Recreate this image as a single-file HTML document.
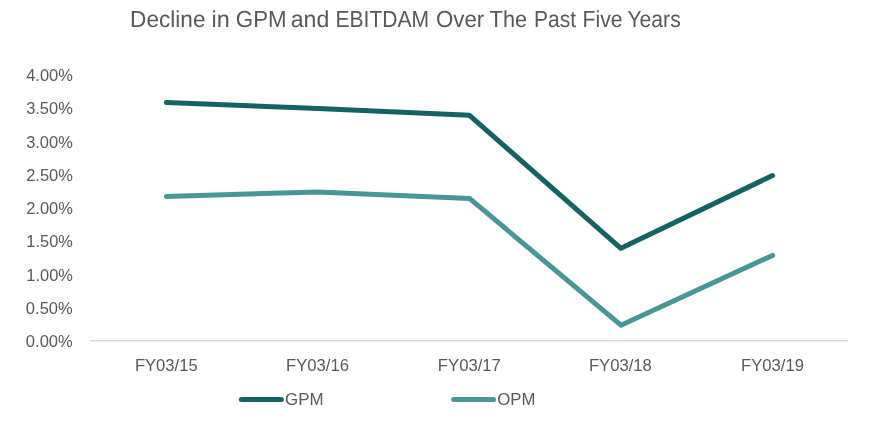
<!DOCTYPE html>
<html lang="en"><head><meta charset="utf-8"><title>Decline in GPM and EBITDAM Over The Past Five Years</title>
<style>
html,body{margin:0;padding:0;background:#fff;}
body{width:874px;height:442px;overflow:hidden;}
svg{display:block;}
text{font-family:"Liberation Sans",sans-serif;fill:#595959;}
.t{font-size:23.15px;text-rendering:geometricPrecision;}
.l{font-size:17.2px;}
</style></head><body>
<svg width="874" height="442" viewBox="0 0 874 442">
<rect width="874" height="442" fill="#fff"/>
<text class="t" y="27"><tspan x="130.11" textLength="75.39" lengthAdjust="spacingAndGlyphs">Decline</tspan> <tspan x="211.46" textLength="18.23" lengthAdjust="spacingAndGlyphs">in</tspan> <tspan x="235.82" textLength="50.79" lengthAdjust="spacingAndGlyphs">GPM</tspan> <tspan x="290.73" textLength="38.52" lengthAdjust="spacingAndGlyphs">and</tspan> <tspan x="335.44" textLength="93.73" lengthAdjust="spacingAndGlyphs">EBITDAM</tspan> <tspan x="435.96" textLength="48.31" lengthAdjust="spacingAndGlyphs">Over</tspan> <tspan x="489.61" textLength="37.43" lengthAdjust="spacingAndGlyphs">The</tspan> <tspan x="534.06" textLength="41.95" lengthAdjust="spacingAndGlyphs">Past</tspan> <tspan x="582.53" textLength="39.99" lengthAdjust="spacingAndGlyphs">Five</tspan> <tspan x="627.47" textLength="53.24" lengthAdjust="spacingAndGlyphs">Years</tspan></text>
<rect x="90" y="340" width="758" height="1.35" fill="#d9d9d9"/>
<text class="l" x="26.19" y="81.00" textLength="46.58" lengthAdjust="spacingAndGlyphs">4.00%</text>
<text class="l" x="26.17" y="114.00" textLength="46.62" lengthAdjust="spacingAndGlyphs">3.50%</text>
<text class="l" x="26.17" y="148.00" textLength="46.62" lengthAdjust="spacingAndGlyphs">3.00%</text>
<text class="l" x="26.2" y="181.00" textLength="46.71" lengthAdjust="spacingAndGlyphs">2.50%</text>
<text class="l" x="26.2" y="214.00" textLength="46.71" lengthAdjust="spacingAndGlyphs">2.00%</text>
<text class="l" x="26.33" y="247.00" textLength="46.5" lengthAdjust="spacingAndGlyphs">1.50%</text>
<text class="l" x="26.33" y="281.00" textLength="46.5" lengthAdjust="spacingAndGlyphs">1.00%</text>
<text class="l" x="25.83" y="314.00" textLength="46.94" lengthAdjust="spacingAndGlyphs">0.50%</text>
<text class="l" x="25.83" y="347.00" textLength="46.94" lengthAdjust="spacingAndGlyphs">0.00%</text>
<text class="l" x="134.88" y="371.00" textLength="62.77" lengthAdjust="spacingAndGlyphs">FY03/15</text>
<text class="l" x="286.01" y="371.00" textLength="62.95" lengthAdjust="spacingAndGlyphs">FY03/16</text>
<text class="l" x="437.83" y="371.00" textLength="63.07" lengthAdjust="spacingAndGlyphs">FY03/17</text>
<text class="l" x="588.95" y="371.00" textLength="62.91" lengthAdjust="spacingAndGlyphs">FY03/18</text>
<text class="l" x="741.05" y="371.00" textLength="62.86" lengthAdjust="spacingAndGlyphs">FY03/19</text>
<text class="l" x="285.05" y="405.00" textLength="38.43" lengthAdjust="spacingAndGlyphs">GPM</text>
<text class="l" x="497.23" y="405.00" textLength="38.17" lengthAdjust="spacingAndGlyphs">OPM</text>
<polyline points="166.4,196.5 317.9,191.9 469.5,198.4 620.9,325.2 772.6,255.4" fill="none" stroke="#489797" stroke-width="5" stroke-linecap="round" stroke-linejoin="round"/>
<polyline points="166.4,102.6 317.9,108.5 469.5,115.3 620.9,248.3 772.6,175.5" fill="none" stroke="#146363" stroke-width="5" stroke-linecap="round" stroke-linejoin="round"/>
<line x1="241.4" y1="399.5" x2="281.3" y2="399.5" stroke="#146363" stroke-width="5" stroke-linecap="round"/>
<line x1="453.6" y1="399.5" x2="493.5" y2="399.5" stroke="#489797" stroke-width="5" stroke-linecap="round"/>
</svg></body></html>
